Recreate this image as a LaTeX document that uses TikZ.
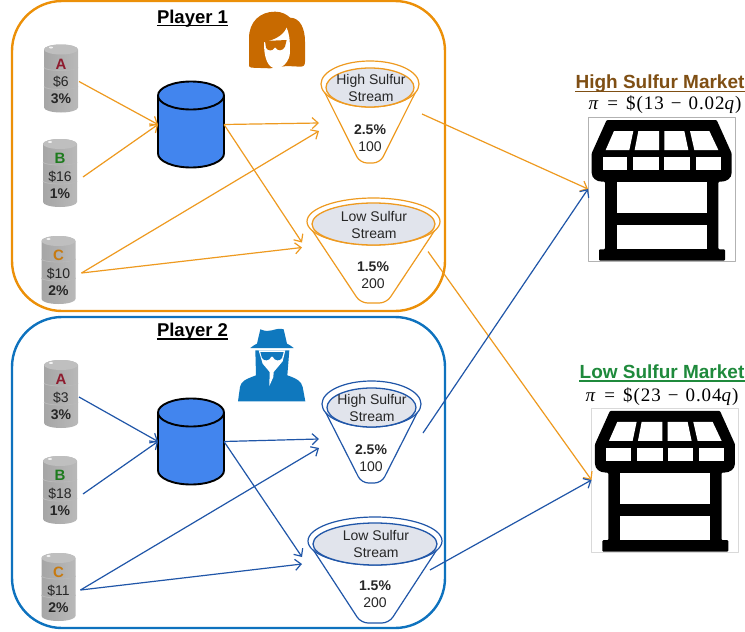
\documentclass[tikz,border=0pt]{standalone}
\usepackage{fontspec}
\setmainfont{Liberation Sans}
\newfontfamily\eqfont[LetterSpace=5]{Liberation Serif}
\usetikzlibrary{arrows.meta,calc}
\definecolor{orgline}{HTML}{EE9A20}
\definecolor{orgbox}{HTML}{EC9008}
\definecolor{bluline}{HTML}{2056A8}
\definecolor{blubox}{HTML}{0E72BE}
\definecolor{cylfill}{HTML}{4285EE}
\definecolor{streamfill}{HTML}{E1E4EC}
\definecolor{txt}{HTML}{262626}
\definecolor{letA}{HTML}{8E1B2E}
\definecolor{letB}{HTML}{1E7B1E}
\definecolor{letC}{HTML}{C77A10}
\definecolor{womanc}{HTML}{C86A00}
\definecolor{spyc}{HTML}{0F78BE}
\definecolor{mkthigh}{HTML}{7F4F14}
\definecolor{mktlow}{HTML}{1F8A3C}
\tikzset{
  playerbox/.style={draw=#1,line width=2.4pt,rounded corners=50pt},
  flow/.style={draw=#1,line width=1.2pt,-{Straight Barb[length=6pt,width=11pt,line width=1.2pt]}},
  ghost/.style={inner sep=0pt,outer sep=0pt,minimum width=#1},
  title/.style={font=\fontsize{18.5}{20}\selectfont\bfseries,text=black,inner sep=0pt},
  mkt/.style={font=\fontsize{19}{21}\selectfont\bfseries,text=#1,inner sep=0pt},
  eqn/.style={font=\fontsize{19}{21}\selectfont\eqfont,inner sep=0pt,text=black},
  streamlbl/.style={font=\fontsize{14}{17}\selectfont,text=txt,align=center,inner sep=0pt},
}
\newcommand{\eqtext}[2]{\textit{π}\hspace{8pt}=\hspace{8pt}\$(#1\hspace{7pt}−\hspace{7pt}#2\textit{q})}
% name, cx, cy, letter, colour, price, pct
\newcommand{\oilbarrel}[7]{%
  \shade[left color=gray!70,middle color=gray!15,right color=gray!55]
    (#2-17,#3-29) -- (#2-17,#3+29) arc[x radius=17,y radius=5,start angle=180,end angle=0]
    -- (#2+17,#3-29) arc[x radius=17,y radius=5,start angle=0,end angle=-180] -- cycle;
  \fill[gray!50] (#2,#3-29) ellipse[x radius=17,y radius=5];
  \fill[gray!10] (#2-10,#3-31) ellipse[x radius=2,y radius=1];
  \draw[gray!55,line width=.8pt] (#2-17,#3-11) arc[x radius=17,y radius=3,start angle=180,end angle=0];
  \draw[gray!55,line width=.8pt] (#2-17,#3+8) arc[x radius=17,y radius=3,start angle=180,end angle=0];
  \node[ghost=34pt,minimum height=68pt,text=txt,align=center,font=\fontsize{14}{17.3}\selectfont] (#1) at (#2,#3+3)
    {{\fontsize{15}{17.3}\selectfont\bfseries\textcolor{#5}{#4}}\\#6\\\textbf{#7}};
}
% name, cx, cy
\newcommand{\tank}[3]{%
  \draw[black,fill=cylfill,line width=1.9pt]
    (#2-33,#3-29) -- (#2-33,#3+29) arc[x radius=33,y radius=14,start angle=180,end angle=0]
    -- (#2+33,#3-29) arc[x radius=33,y radius=14,start angle=0,end angle=-180] -- cycle;
  \draw[black,line width=1.9pt] (#2-33,#3-29) arc[x radius=33,y radius=14,start angle=180,end angle=0];
  \node[ghost=66pt,minimum height=87pt] (#1) at (#2,#3) {};
}
% name, colour, cx, ytop, ybot, rx, ry, hb, inner ry
\newcommand{\funnel}[9]{%
  \draw[#2,line width=1.2pt,rounded corners=7pt]
    (#3-0.92*#6,#4+#7+9) -- (#3-#8,#5) -- (#3+#8,#5) -- (#3+0.92*#6,#4+#7+9);
  \draw[#2,line width=1.2pt] (#3,#4+#7) ellipse[x radius=#6,y radius=#7];
  \draw[#2,fill=streamfill,line width=1.3pt] (#3,#4+2*#7-#9) ellipse[x radius=#6-5,y radius=#9];
  \node[ghost=2*#6*1pt,minimum height=#5pt-#4pt] (#1) at (#3,{(#4+#5)/2}) {};
}
% name, cx, ytop, line 1, pct, val
\newcommand{\streamtext}[6]{%
  \node[streamlbl] (#1n) at (#2+1,#3+26.5) {#4\\Stream};
  \node[streamlbl] (#1v) at (#2,#3+77.5) {\textbf{#5}\\#6};
}
% name, origin x, origin y, border colour, centre x, centre y
\newcommand{\shop}[6]{%
  \node[draw=#4,line width=.7pt,fill=white,inner sep=0pt,outer sep=0pt,minimum width=147pt,minimum height=144pt] (#1) at (#5,#6) {};
  \begin{scope}[shift={(#2,#3)},x=0.33333pt,y=-0.33333pt]
    \fill[black,rounded corners=1pt] (140,180) -- (470,180) -- (515,280) -- (515,335)
      .. controls (515,355) and (500,365) .. (480,365) -- (475,365) -- (475,568) -- (495,568) -- (495,602)
      -- (117,602) -- (117,568) -- (135,568) -- (135,365) -- (130,365)
      .. controls (110,365) and (95,355) .. (95,335) -- (95,280) -- cycle;
    \fill[white] (162,213) -- (220,213) -- (208,270) -- (137,270) -- cycle;
    \fill[white] (235,213) -- (297,213) -- (297,270) -- (224,270) -- cycle;
    \fill[white] (313,213) -- (373,213) -- (385,270) -- (313,270) -- cycle;
    \fill[white] (390,213) -- (448,213) -- (475,270) -- (403,270) -- cycle;
    \fill[white] (128,290) rectangle (202,330);
    \fill[white] (220,290) rectangle (298,330);
    \fill[white] (313,290) rectangle (390,330);
    \fill[white] (408,290) rectangle (482,330);
    \fill[white] (170,366) rectangle (440,460);
    \fill[white] (170,496) rectangle (440,568);
  \end{scope}
}
\begin{document}
\begin{tikzpicture}[x=1pt,y=-1pt,line join=round]
\useasboundingbox (0,0) rectangle (745,632);
\fill[white] (0,0) rectangle (745,632);

% player frames
\node[playerbox=orgbox,inner sep=0pt,minimum width=433pt,minimum height=310pt] (p1) at (228.5,156) {};
\node[playerbox=blubox,inner sep=0pt,minimum width=433pt,minimum height=311pt] (p2) at (228.5,472.5) {};
\node[title] (t1) at (192.5,18.7) {Player 1};
\node[title] (t2) at (192.5,331.7) {Player 2};
\draw[black,line width=1.3pt] ($(t1.south west)+(0,-2)$) -- ($(t1.south east)+(0,-2)$);
\draw[black,line width=1.3pt] ($(t2.south west)+(0,-1.5)$) -- ($(t2.south east)+(0,-1.5)$);

% woman icon
\begin{scope}[shift={(240,5)},x=0.33333pt,y=-0.33333pt]
  \fill[womanc] (34,188) .. controls (27,188) and (27,183) .. (27,175) -- (27,100)
    .. controls (27,50) and (60,20) .. (105,20) .. controls (125,20) and (140,28) .. (150,38)
    .. controls (180,38) and (195,70) .. (195,110) -- (195,170)
    .. controls (195,182) and (190,185) .. (180,185) -- (140,183) -- (90,190) -- cycle;
  \fill[white] (72,112) .. controls (100,105) and (128,95) .. (140,68)
    .. controls (147,85) and (150,100) .. (150,140)
    .. controls (150,170) and (125,192) .. (105,192)
    .. controls (85,185) and (72,165) .. (72,112) -- cycle;
  \fill[womanc] (75,108) -- (140,105) -- (135,125) .. controls (128,140) and (112,138) .. (107,128)
    -- (104,128) .. controls (98,140) and (82,138) .. (78,128) -- cycle;
\end{scope}

% spy icon
\begin{scope}[shift={(232,322)},x=0.33333pt,y=-0.33333pt]
  \fill[spyc] (18,238) -- (24,195) .. controls (27,178) and (40,172) .. (72,160) -- (70,85)
     -- (172,85) -- (166,160) .. controls (195,170) and (208,178) .. (212,195) -- (220,238) -- cycle;
  \fill[white] (80,85) -- (160,85) -- (152,118) -- (125,150) -- (124,165) -- (112,192) -- (113,150) -- (92,125) -- cycle;
  \fill[spyc] (85,90) -- (155,90) -- (150,108) .. controls (145,118) and (128,118) .. (122,104)
    -- (118,104) .. controls (112,118) and (95,118) .. (90,108) -- cycle;
  \fill[spyc] (85,22) .. controls (100,28) and (110,28) .. (120,25) .. controls (130,22) and (145,18) .. (155,22)
    -- (165,65) .. controls (172,68) and (178,72) .. (185,78) -- (55,78) .. controls (62,72) and (68,68) .. (75,65) -- cycle;
\end{scope}

% barrels
\oilbarrel{a1}{61}{78.5}{A}{letA}{\$6}{3\%}
\oilbarrel{b1}{60}{173}{B}{letB}{\$16}{1\%}
\oilbarrel{c1}{58.5}{270}{C}{letC}{\$10}{2\%}
\oilbarrel{a2}{61}{394}{A}{letA}{\$3}{3\%}
\oilbarrel{b2}{60}{490}{B}{letB}{\$18}{1\%}
\oilbarrel{c2}{58.5}{587}{C}{letC}{\$11}{2\%}

% tanks
\tank{k1}{191}{124.5}
\tank{k2}{191}{441.5}

% funnels
\funnel{h1}{orgline}{370}{61}{163}{49}{23}{10}{19.5}
\funnel{l1}{orgline}{373.5}{198}{303}{66.5}{23.5}{13}{21}
\funnel{h2}{bluline}{371.5}{381}{483}{49.5}{23}{10}{19.5}
\funnel{l2}{bluline}{375}{517}{623}{67}{24}{14}{21}
\streamtext{h1}{370}{61}{High Sulfur}{2.5\%}{100}
\streamtext{l1}{373}{198}{Low Sulfur}{1.5\%}{200}
\streamtext{h2}{371}{381}{High Sulfur}{2.5\%}{100}
\streamtext{l2}{375}{517}{Low Sulfur}{1.5\%}{200}

% markets
\node[mkt=mkthigh] (m1) at (660,84) {High Sulfur Market};
\draw[mkthigh,line width=1.4pt] ($(m1.south west)+(0,-1.3)$) -- ($(m1.south east)+(0,-1.3)$);
\node[eqn] (e1) at (665,105) {\eqtext{13}{0.02}};
\shop{s1}{560}{60}{gray!60}{661.5}{189}
\node[mkt=mktlow] (m2) at (662,372) {Low Sulfur Market};
\draw[mktlow,line width=1.4pt] ($(m2.south west)+(0,2)$) -- ($(m2.south east)+(0,2)$);
\node[eqn] (e2) at (662,396.5) {\eqtext{23}{0.04}};
\shop{s2}{563.3}{350.9}{gray!30}{665}{480}

% player 1 flows
\draw[flow=orgline] ($(a1.east)+(1,0)$) -- (k1.west);
\draw[flow=orgline] ($(b1.east)+(6,1)$) -- (k1.west);
\draw[flow=orgline] ($(c1.east)+(6,0)$) -- ($(h1.west)+(-2,19)$);
\draw[flow=orgline] ($(c1.east)+(6,0)$) -- ($(l1.west)+(-5,-3)$);
\draw[flow=orgline] (k1.east) -- ($(h1.west)+(-2,11)$);
\draw[flow=orgline] (k1.east) -- ($(l1.west)+(-5,-8)$);
\draw[flow=orgline] ($(h1.east)+(3,2)$) -- (s1.west);
\draw[flow=orgline] ($(l1.east)+(-12,1)$) -- (s2.west);

% player 2 flows
\draw[flow=bluline] ($(a2.east)+(1,0)$) -- (k2.west);
\draw[flow=bluline] ($(b2.east)+(6,1)$) -- (k2.west);
\draw[flow=bluline] ($(c2.east)+(5,0)$) -- ($(h2.west)+(-3,16)$);
\draw[flow=bluline] ($(c2.east)+(5,0)$) -- ($(l2.west)+(-6,-6)$);
\draw[flow=bluline] (k2.east) -- ($(h2.west)+(-3,7)$);
\draw[flow=bluline] (k2.east) -- ($(l2.west)+(-6,-13)$);
\draw[flow=bluline] ($(h2.east)+(2,1)$) -- (s1.west);
\draw[flow=bluline] ($(l2.east)+(-12,0)$) -- (s2.west);
\end{tikzpicture}
\end{document}
